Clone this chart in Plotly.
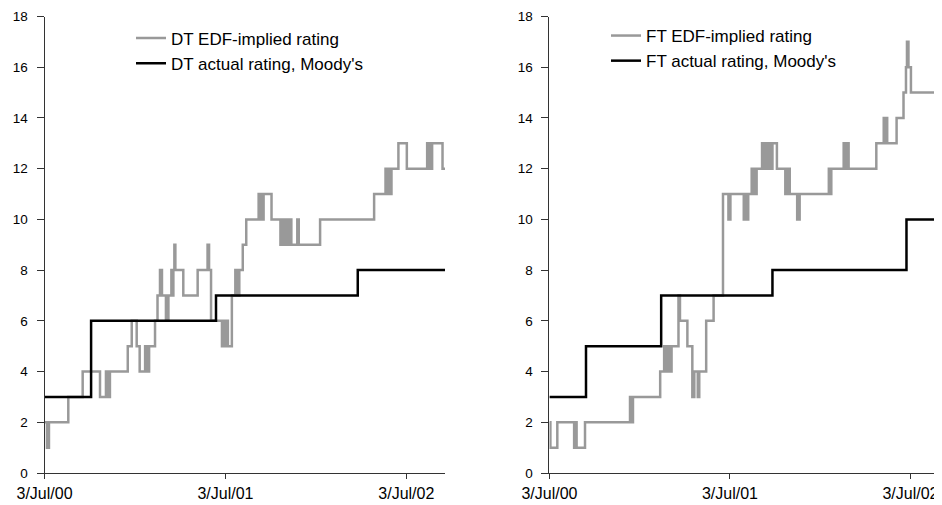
import plotly.graph_objects as go

# ---- DT (left panel) ----
dt_edf_dates = [
    "2000-07-03", "2000-07-08", "2000-07-12", "2000-08-20", "2000-09-18", "2000-10-23",
    "2000-11-04", "2000-11-08", "2000-11-12", "2000-12-18", "2000-12-26", "2001-01-05",
    "2001-01-11", "2001-01-22", "2001-01-26", "2001-01-30", "2001-02-11", "2001-02-16",
    "2001-02-21", "2001-02-25", "2001-03-05", "2001-03-10", "2001-03-16", "2001-03-18",
    "2001-03-20", "2001-03-22", "2001-03-24", "2001-04-09", "2001-05-08", "2001-05-28",
    "2001-05-31", "2001-06-04", "2001-06-26", "2001-06-29", "2001-07-02", "2001-07-05",
    "2001-07-08", "2001-07-16", "2001-07-23", "2001-07-25", "2001-07-27", "2001-07-29",
    "2001-07-31", "2001-08-07", "2001-08-14", "2001-09-08", "2001-09-10", "2001-09-13",
    "2001-09-16", "2001-09-18", "2001-10-04", "2001-10-22", "2001-10-26", "2001-10-30",
    "2001-11-03", "2001-11-06", "2001-11-09", "2001-11-13", "2001-11-25", "2001-11-28",
    "2002-01-10", "2002-04-29", "2002-05-22", "2002-05-24", "2002-05-26", "2002-05-28",
    "2002-05-30", "2002-06-01", "2002-06-03", "2002-06-17", "2002-07-04", "2002-08-14",
    "2002-08-17", "2002-08-20", "2002-08-22", "2002-08-24", "2002-09-14", "2002-09-19",
]
dt_edf_vals = [
    2, 1, 2, 3, 4, 3,
    4, 3, 4, 5, 6, 5,
    4, 5, 4, 5, 6, 7,
    8, 7, 6, 7, 8, 7,
    8, 9, 8, 7, 8, 9,
    8, 6, 5, 6, 5, 6,
    5, 7, 8, 7, 8, 7,
    8, 9, 10, 11, 10, 11,
    10, 11, 10, 9, 10, 9,
    10, 9, 10, 9, 10, 9,
    10, 11, 12, 11, 12, 11,
    12, 11, 12, 13, 12, 13,
    12, 13, 12, 13, 12, 12,
]
dt_act_dates = ["2000-07-03", "2000-10-05", "2001-06-14", "2002-03-27", "2002-09-19"]
dt_act_vals = [3, 6, 7, 8, 8]

# ---- FT (right panel) ----
ft_edf_dates = [
    "2000-07-03", "2000-07-05", "2000-07-19", "2000-08-22", "2000-08-25", "2000-08-27",
    "2000-09-13", "2000-12-13", "2000-12-16", "2000-12-19", "2001-02-12", "2001-02-20",
    "2001-02-24", "2001-02-28", "2001-03-04", "2001-03-07", "2001-03-21", "2001-03-24",
    "2001-04-08", "2001-04-18", "2001-04-22", "2001-04-29", "2001-05-02", "2001-05-16",
    "2001-05-31", "2001-06-19", "2001-06-30", "2001-07-04", "2001-07-31", "2001-08-03",
    "2001-08-06", "2001-08-09", "2001-08-16", "2001-08-19", "2001-08-22", "2001-08-24",
    "2001-08-26", "2001-09-06", "2001-09-09", "2001-09-12", "2001-09-16", "2001-09-20",
    "2001-09-24", "2001-09-27", "2001-10-06", "2001-10-23", "2001-10-28", "2001-11-01",
    "2001-11-16", "2001-11-21", "2002-01-19", "2002-01-21", "2002-01-24", "2002-02-18",
    "2002-02-21", "2002-02-24", "2002-02-28", "2002-04-25", "2002-05-10", "2002-05-12",
    "2002-05-14", "2002-05-17", "2002-06-05", "2002-06-19", "2002-06-24", "2002-06-26",
    "2002-06-29", "2002-07-04", "2002-08-31", "2002-09-25",
]
ft_edf_vals = [
    2, 1, 2, 1, 2, 1,
    2, 3, 2, 3, 4, 5,
    4, 5, 4, 5, 7, 6,
    5, 3, 4, 3, 4, 6,
    7, 11, 10, 11, 10, 11,
    10, 11, 12, 11, 12, 11,
    12, 13, 12, 13, 12, 13,
    12, 13, 12, 11, 12, 11,
    10, 11, 12, 11, 12, 13,
    12, 13, 12, 13, 14, 13,
    14, 13, 14, 15, 16, 17,
    16, 15, 16, 16,
]
ft_act_dates = ["2000-07-03", "2000-09-15", "2001-02-14", "2001-09-27", "2002-06-25", "2002-09-25"]
ft_act_vals = [3, 5, 7, 8, 10, 10]

tick_vals = ["2000-07-03", "2001-07-03", "2002-07-03"]
tick_text = ["3/Jul/00", "3/Jul/01", "3/Jul/02"]

GRAY = "#999999"
BLACK = "#000000"
FONT = "Liberation Sans, Arial, sans-serif"

fig = go.Figure()
fig.add_trace(go.Scatter(x=dt_edf_dates, y=dt_edf_vals, mode="lines", name="DT EDF-implied rating",
                         line=dict(color=GRAY, width=2.5, shape="hv"), xaxis="x", yaxis="y", legend="legend"))
fig.add_trace(go.Scatter(x=dt_act_dates, y=dt_act_vals, mode="lines", name="DT actual rating, Moody's",
                         line=dict(color=BLACK, width=2.5, shape="hv"), xaxis="x", yaxis="y", legend="legend"))
fig.add_trace(go.Scatter(x=ft_edf_dates, y=ft_edf_vals, mode="lines", name="FT EDF-implied rating",
                         line=dict(color=GRAY, width=2.5, shape="hv"), xaxis="x2", yaxis="y2", legend="legend2"))
fig.add_trace(go.Scatter(x=ft_act_dates, y=ft_act_vals, mode="lines", name="FT actual rating, Moody's",
                         line=dict(color=BLACK, width=2.5, shape="hv"), xaxis="x2", yaxis="y2", legend="legend2"))

W, H = 942, 505
OFF = 8  # page body margin offset
xcommon = dict(type="date", tickmode="array", tickvals=tick_vals, ticktext=tick_text,
               showline=True, linecolor="#333333", linewidth=1, ticks="outside", ticklen=5,
               tickcolor="#333333", showgrid=False, zeroline=False, automargin=False,
               ticklabelstandoff=1, ticklabeloverflow="allow",
               tickfont=dict(family=FONT, size=16, color="#000000"))
ycommon = dict(range=[0, 18], dtick=2, showline=True, linecolor="#333333", linewidth=1,
               ticks="outside", ticklen=7, tickcolor="#333333", showgrid=False, zeroline=False,
               automargin=False, ticklabelstandoff=6, ticklabeloverflow="allow",
               domain=[(H - (473 - OFF)) / H, (H - (16.5 - OFF)) / H],
               tickfont=dict(family=FONT, size=13.5, color="#000000"))

fig.update_layout(
    width=W, height=H,
    margin=dict(l=0, r=0, t=0, b=0, autoexpand=False),
    paper_bgcolor="white", plot_bgcolor="white",
    font=dict(family=FONT, size=14, color="#000000"),
    xaxis=dict(xcommon, domain=[(44.5 - OFF) / W, (445 - OFF) / W], range=["2000-07-03", "2002-09-19"], anchor="y"),
    yaxis=dict(ycommon, anchor="x"),
    xaxis2=dict(xcommon, domain=[(549.4 - OFF) / W, 1.0], range=["2000-07-03", "2002-09-21"], anchor="y2"),
    yaxis2=dict(ycommon, anchor="x2"),
    legend=dict(x=123 / W, y=1 - 12.5 / H, xanchor="left", yanchor="top", bgcolor="rgba(0,0,0,0)",
                font=dict(family=FONT, size=17, color="#000000"), traceorder="normal"),
    legend2=dict(x=598 / W, y=1 - 10 / H, xanchor="left", yanchor="top", bgcolor="rgba(0,0,0,0)",
                 font=dict(family=FONT, size=17, color="#000000"), traceorder="normal"),
    showlegend=True,
)

fig.write_html("out.html")
